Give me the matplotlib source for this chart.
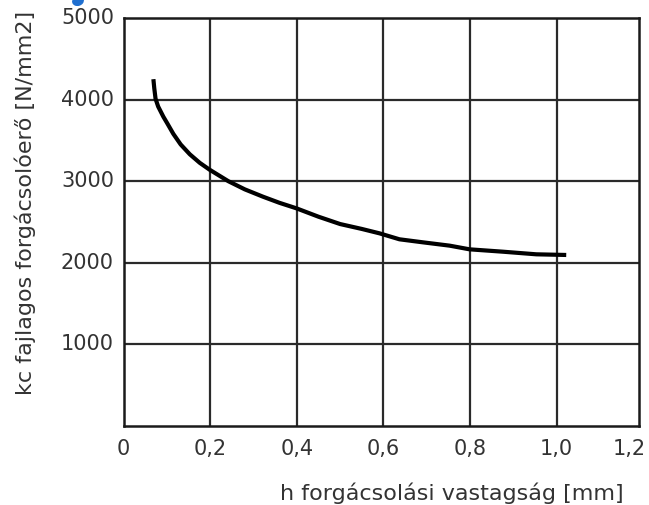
import matplotlib
matplotlib.use("Agg")
import matplotlib.pyplot as plt
from matplotlib.patches import Ellipse

# Specific cutting force versus chip thickness
h_mm = [0.069, 0.071, 0.074, 0.080, 0.092, 0.102, 0.115, 0.132, 0.153, 0.176,
        0.199, 0.242, 0.280, 0.322, 0.360, 0.399, 0.450, 0.500, 0.550, 0.591,
        0.637, 0.691, 0.753, 0.799, 0.876, 0.953, 1.022]
kc_nmm2 = [4250, 4140, 4010, 3915, 3790, 3700, 3580, 3450, 3330, 3225,
           3140, 3000, 2900, 2810, 2735, 2668, 2565, 2475, 2415, 2361,
           2288, 2251, 2210, 2165, 2136, 2104, 2096]

x_ticks = [0, 0.2, 0.4, 0.6, 0.8, 1.0, 1.2]
x_tick_labels = ["0", "0,2", "0,4", "0,6", "0,8", "1,0", "1,2"]
y_ticks = [1000, 2000, 3000, 4000, 5000]
y_tick_labels = ["1000", "2000", "3000", "4000", "5000"]

x_max = 1.19
text_color = "#333333"
fs_tick = 15
fs_label = 16

fig = plt.figure(figsize=(6.49, 5.05), dpi=100)
ax = fig.add_axes([0.1903, 0.1564, 0.9846 - 0.1903, 0.9644 - 0.1564])
ax.set_xlim(0, x_max)
ax.set_ylim(0, 5000)

# grid
for xv in x_ticks[1:-1]:
    ax.axvline(xv, color="#2a2a2a", lw=1.6, zorder=1)
for yv in y_ticks[:-1]:
    ax.axhline(yv, color="#2a2a2a", lw=1.6, zorder=1)

for s in ax.spines.values():
    s.set_linewidth(1.8)
    s.set_color("#1a1a1a")

ax.plot(h_mm, kc_nmm2, color="black", lw=3.0, solid_capstyle="butt",
        solid_joinstyle="round", zorder=3)

ax.set_xticks([])
ax.set_yticks([])

# tick labels
for xv, lab in zip(x_ticks, x_tick_labels):
    xp = min(xv, 1.168)
    ax.text(xp, -160, lab, ha="center", va="top",
            fontsize=fs_tick, color=text_color, clip_on=False)
for yv, lab in zip(y_ticks, y_tick_labels):
    ax.text(-0.022, yv, lab, ha="right", va="center",
            fontsize=fs_tick, color=text_color, clip_on=False)

fig.text(452 / 649, 1 - 493 / 505, "h forgácsolási vastagság [mm]",
         ha="center", va="center", fontsize=fs_label, color=text_color)
fig.text(25 / 649, 1 - 203 / 505, "kc fajlagos forgácsolóerő [N/mm2]",
         ha="center", va="center", rotation=90, fontsize=fs_label, color=text_color)

# small blue mark at the top edge
fig.patches.append(Ellipse((78 / 649, 1 - 1 / 505), 10 / 649, 9 / 505, angle=-30,
                           transform=fig.transFigure, color="#1f6fd0"))

fig.savefig("out.png", dpi=100)
